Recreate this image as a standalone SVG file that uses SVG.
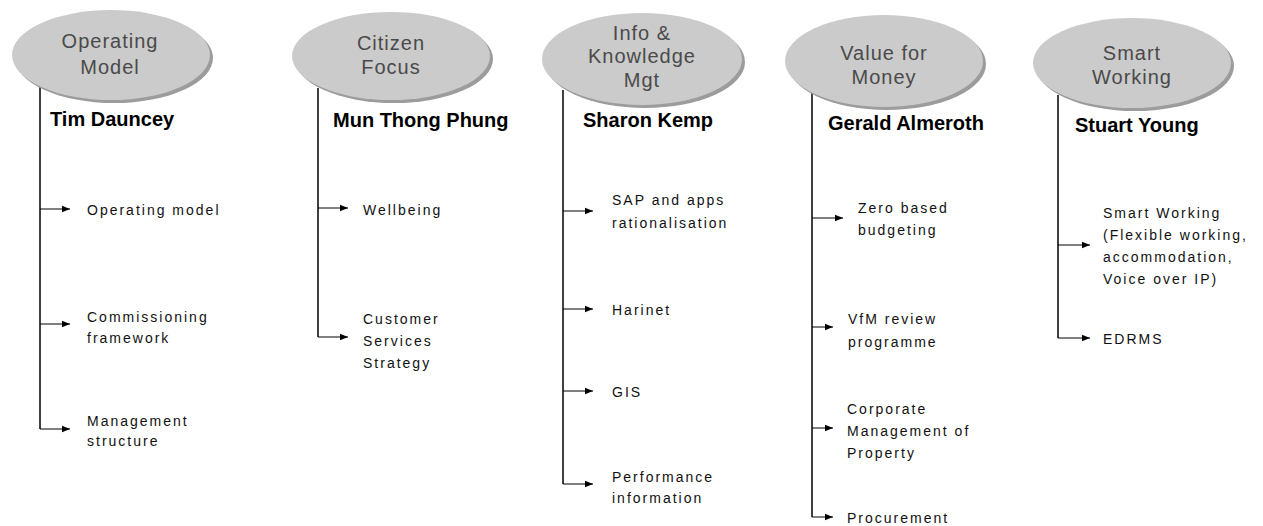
<svg xmlns="http://www.w3.org/2000/svg" width="1263" height="526" viewBox="0 0 1263 526">
<style>
.bg{fill:#ffffff}
.sh{fill:#9c9c9c}
.el{fill:#cbcbcb}
.lab{font-family:"Liberation Sans",Arial,sans-serif;font-size:20px;fill:#4a4a4a;text-anchor:middle;letter-spacing:1px}
.name{font-family:"Liberation Sans",Arial,sans-serif;font-size:20px;font-weight:bold;fill:#000}
.item{font-family:"Liberation Sans",Arial,sans-serif;font-size:14px;fill:#111;letter-spacing:2px}
.trunk{stroke:#000;stroke-width:1.5;fill:none}
.br{stroke:#000;stroke-width:1;fill:none;marker-end:url(#ah)}
</style>
<defs>
<marker id="ah" viewBox="0 0 8 8" refX="8" refY="4" markerWidth="8" markerHeight="8" markerUnits="userSpaceOnUse" orient="auto">
<path d="M0,0.8 L8,4 L0,7.2 Z" fill="#000"/>
</marker>
</defs>
<rect class="bg" x="0" y="0" width="1263" height="526"/>

<g id="connectors">
<path class="trunk" d="M40,86 V429"/>
<path class="br" d="M40,209 H70"/>
<path class="br" d="M40,324 H70"/>
<path class="br" d="M40,429 H70"/>

<path class="trunk" d="M318,88 V337"/>
<path class="br" d="M318,208 H348"/>
<path class="br" d="M318,337 H348"/>

<path class="trunk" d="M563,90 V484"/>
<path class="br" d="M563,211 H593"/>
<path class="br" d="M563,309 H593"/>
<path class="br" d="M563,391 H593"/>
<path class="br" d="M563,484 H593"/>

<path class="trunk" d="M812,92 V517"/>
<path class="br" d="M812,218 H843"/>
<path class="br" d="M812,327 H833"/>
<path class="br" d="M812,428 H833"/>
<path class="br" d="M812,517 H833"/>

<path class="trunk" d="M1058,95 V338"/>
<path class="br" d="M1058,245 H1090"/>
<path class="br" d="M1058,338 H1090"/>
</g>

<g id="node-operating-model">
<ellipse class="sh" cx="114" cy="58" rx="99" ry="45"/>
<ellipse class="el" cx="111" cy="55" rx="99" ry="45"/>
<text class="lab" x="110" y="48">Operating</text>
<text class="lab" x="110" y="74">Model</text>
<text class="name" x="50" y="126">Tim Dauncey</text>
</g>
<g id="node-citizen-focus">
<ellipse class="sh" cx="394" cy="59" rx="99" ry="44"/>
<ellipse class="el" cx="391" cy="56" rx="99" ry="44"/>
<text class="lab" x="391" y="50">Citizen</text>
<text class="lab" x="391" y="74">Focus</text>
<text class="name" x="333" y="127">Mun Thong Phung</text>
</g>
<g id="node-info-knowledge">
<ellipse class="sh" cx="645" cy="62" rx="100" ry="46"/>
<ellipse class="el" cx="642" cy="59" rx="100" ry="46"/>
<text class="lab" x="642" y="40">Info &amp;</text>
<text class="lab" x="642" y="63">Knowledge</text>
<text class="lab" x="642" y="87">Mgt</text>
<text class="name" x="583" y="127">Sharon Kemp</text>
</g>
<g id="node-value-for-money">
<ellipse class="sh" cx="887" cy="64" rx="99" ry="46"/>
<ellipse class="el" cx="884" cy="61" rx="99" ry="46"/>
<text class="lab" x="884" y="60">Value for</text>
<text class="lab" x="884" y="84">Money</text>
<text class="name" x="828" y="130">Gerald Almeroth</text>
</g>
<g id="node-smart-working">
<ellipse class="sh" cx="1135" cy="66" rx="99" ry="45"/>
<ellipse class="el" cx="1132" cy="63" rx="99" ry="45"/>
<text class="lab" x="1132" y="60">Smart</text>
<text class="lab" x="1132" y="84">Working</text>
<text class="name" x="1075" y="132">Stuart Young</text>
</g>

<g id="item-operating-model"><text class="item" x="87" y="215">Operating model</text></g>
<g id="item-commissioning"><text class="item" x="87" y="322">Commissioning</text><text class="item" x="87" y="343">framework</text></g>
<g id="item-management-structure"><text class="item" x="87" y="426">Management</text><text class="item" x="87" y="446">structure</text></g>

<g id="item-wellbeing"><text class="item" x="363" y="215">Wellbeing</text></g>
<g id="item-customer-services"><text class="item" x="363" y="324">Customer</text><text class="item" x="363" y="346">Services</text><text class="item" x="363" y="368">Strategy</text></g>

<g id="item-sap"><text class="item" x="612" y="205">SAP and apps</text><text class="item" x="612" y="228">rationalisation</text></g>
<g id="item-harinet"><text class="item" x="612" y="315">Harinet</text></g>
<g id="item-gis"><text class="item" x="612" y="397">GIS</text></g>
<g id="item-performance"><text class="item" x="612" y="482">Performance</text><text class="item" x="612" y="503">information</text></g>

<g id="item-zero-based"><text class="item" x="858" y="213">Zero based</text><text class="item" x="858" y="235">budgeting</text></g>
<g id="item-vfm"><text class="item" x="848" y="324">VfM review</text><text class="item" x="848" y="347">programme</text></g>
<g id="item-corporate"><text class="item" x="847" y="414">Corporate</text><text class="item" x="847" y="436">Management of</text><text class="item" x="847" y="458">Property</text></g>
<g id="item-procurement"><text class="item" x="847" y="523">Procurement</text></g>

<g id="item-smart-working"><text class="item" x="1103" y="218">Smart Working</text><text class="item" x="1103" y="240">(Flexible working,</text><text class="item" x="1103" y="262">accommodation,</text><text class="item" x="1103" y="284">Voice over IP)</text></g>
<g id="item-edrms"><text class="item" x="1103" y="344">EDRMS</text></g>
</svg>
